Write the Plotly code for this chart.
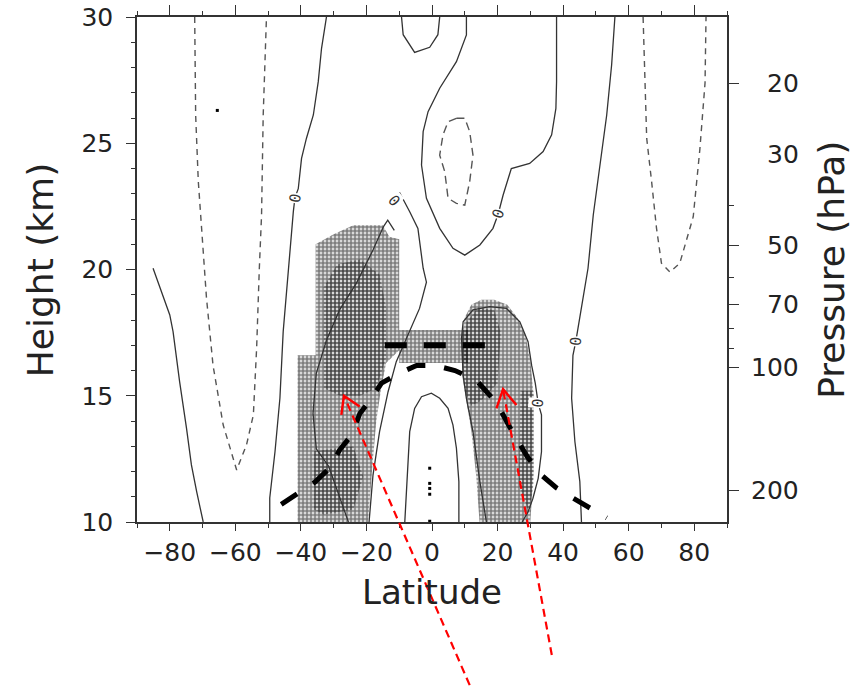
import numpy as np
import plotly.graph_objects as go

# ---------------- data (latitude in degrees, height in km) ----------------
# thin contour lines
negA_lat = [-72.4, -72.1, -71.3, -69.8, -69.3, -68.8, -66.8, -63.7, -59.6, -56.6, -54.5, -53.5, -52.7, -52.0, -51.5, -50.5]
negA_h   = [30.0, 26.1, 23.5, 20.85, 20.1, 18.87, 16.2, 13.84, 12.06, 13.05, 14.24, 16.9, 19.98, 22.16, 26.1, 30.0]

negJ_lat = [64.4, 64.9, 65.5, 67.0, 68.5, 70.0, 72.6, 75.6, 79.7, 81.7, 83.3, 83.6]
negJ_h   = [30.0, 27.44, 25.2, 23.48, 21.63, 20.25, 19.9, 20.25, 22.09, 24.73, 27.39, 30.0]

negH_lat = [7.45, 10.0, 11.5, 12.5, 11.5, 10.0, 7.45, 4.9, 3.9, 2.35, 3.35, 4.9, 7.45]
negH_h   = [25.99, 25.99, 25.46, 24.53, 23.48, 22.55, 22.62, 22.82, 23.87, 24.53, 25.33, 25.85, 25.99]

posB_lat = [-85.1, -80.0, -79.0, -77.0, -74.9, -73.4, -71.8, -69.8]
posB_h   = [20.05, 18.2, 17.54, 15.56, 13.72, 12.26, 11.2, 10.0]

posC_lat = [-32.2, -33.7, -34.7, -36.2, -38.3, -39.8, -40.8, -41.8, -42.3, -43.8, -45.4, -46.4, -47.9, -49.5, -49.5]
posC_h   = [30.0, 28.76, 27.44, 26.12, 25.2, 24.4, 23.2, 22.85, 22.3, 20.06, 17.54, 14.9, 12.78, 10.95, 10.0]

posD_lat = [-11.5, -13.5, -14.8, -18.0, -23.1, -28.2, -32.2, -35.3, -36.3, -35.3, -31.5, -28.5, -25.5]
posD_h   = [21.55, 21.95, 21.7, 20.77, 19.45, 18.4, 17.2, 15.89, 14.3, 12.9, 12.2, 11.1, 10.0]

posE_lat = [-11.6, -9.9, -6.8, -4.3, -2.7, -1.7, -3.8, -6.8, -10.9, -13.4, -16.0, -18.0, -19.2]
posE_h   = [22.6, 23.05, 22.29, 21.63, 20.05, 19.5, 18.46, 17.54, 16.35, 15.16, 13.58, 11.86, 10.0]

posF_lat = [-9.3, -8.8, -5.3, -0.7, 1.8, 2.35]
posF_h   = [30.0, 29.3, 28.6, 28.8, 29.3, 30.0]

posG_lat = [10.5, 10.5, 7.45, 2.35, -1.2, -2.7, -3.2, -1.7, 2.35, 6.4, 10.0, 14.6, 18.6, 20.2, 21.7, 24.2, 29.8, 33.9, 36.5, 37.8, 38.0, 38.0]
posG_h   = [30.0, 29.29, 28.23, 27.18, 26.25, 25.46, 24.14, 22.82, 21.63, 20.84, 20.57, 20.97, 21.63, 22.2, 22.95, 24.0, 24.2, 24.67, 25.33, 26.38, 27.44, 30.0]

posI_lat = [55.8, 54.8, 53.3, 51.2, 49.2, 47.6, 46.1, 44.6, 43.9, 43.0, 42.6, 43.6, 45.1, 45.6]
posI_h   = [30.0, 28.1, 26.12, 24.14, 22.16, 20.05, 18.86, 17.67, 17.17, 16.6, 14.9, 13.18, 11.6, 10.0]

posK_lat = [-8.3, -7.3, -6.8, -5.3, -3.2, -0.2, 2.35, 4.9, 6.4, 7.45, 8.2, 8.2]
posK_h   = [10.0, 12.26, 13.58, 14.5, 14.96, 15.1, 14.9, 14.5, 13.84, 12.92, 11.6, 10.0]

posL_lat = [16.6, 14.6, 12.5, 10.5, 9.5, 9.0, 9.5, 12.5, 17.6, 22.7, 26.8, 29.3, 30.4, 31.5, 32.4, 33.4, 33.4, 32.4, 30.8, 29.3, 27.5]
posL_h   = [10.0, 11.6, 13.58, 14.9, 15.82, 17.28, 17.93, 18.4, 18.53, 18.46, 17.93, 17.14, 16.2, 15.5, 14.7, 14.24, 12.78, 11.73, 10.94, 10.4, 10.0]

# contour labels
label_lat   = [-41.8, -11.6, 20.2, 43.9, 32.4]
label_h     = [22.85, 22.7, 22.2, 17.17, 14.7]
label_text  = ["0", "0", "0", "0", "0"]
label_angle = [-80, 50, -70, -85, -85]

# tropopause (thick dashed) and 17 km line
trop_lat = [-46, -40, -35.7, -31.2, -28.2, -24.5, -22, -19, -15.4, -9.9, -4.7, 0.8, 7, 13.6, 16.7, 19.8, 23.7, 26.8, 29, 33, 38, 43, 48, 53.3]
trop_h   = [10.7, 11.2, 11.58, 12.14, 12.85, 13.45, 14.3, 14.8, 15.5, 15.9, 16.2, 16.2, 16.0, 15.6, 15.15, 14.7, 13.76, 13.1, 12.6, 11.9, 11.35, 10.95, 10.55, 10.16]
cpt_lat = [-14.4, 17.0]
cpt_h   = [17.0, 17.0]

# stippled (significant) regions
stipL_lat = [-35.5, -30, -24, -15, -13, -10, -10, -14, -15.5, -17, -18, -19.5, -41, -41, -35.5]
stipL_h   = [21.0, 21.4, 21.75, 21.75, 21.3, 21.2, 16.8, 16.3, 15.3, 14.0, 12.5, 10.0, 10.0, 16.6, 16.6]
stipB_lat = [-10, 11, 11, -10]
stipB_h   = [16.3, 16.3, 17.6, 17.6]
stipR_lat = [9.0, 10.0, 12.0, 15.0, 19.0, 23.0, 26.0, 28.5, 30.0, 31.0, 31.0, 30.5, 30.0, 14.5, 13.5, 12.0, 10.5, 9.2, 9.0]
stipR_h   = [17.3, 18.1, 18.6, 18.8, 18.8, 18.6, 18.1, 17.4, 16.4, 15.0, 12.0, 10.8, 10.0, 10.0, 11.8, 13.6, 14.8, 15.8, 17.3]
denseL1_lat = [-33, -33, -29, -22, -16, -14, -14, -17, -22, -28]
denseL1_h   = [15.3, 19.3, 20.2, 20.4, 19.8, 18.5, 16.5, 15.3, 15.0, 15.0]
denseL2_lat = [-36, -36, -24, -21, -24, -33]
denseL2_h   = [10.5, 12.8, 13.0, 11.8, 10.5, 10.3]
denseR1_lat = [9.5, 10.5, 14, 19, 21, 20, 15, 12, 10]
denseR1_h   = [16.0, 17.9, 18.5, 18.4, 17.5, 15.5, 14.8, 14.6, 15.2]
denseR2_lat = [27, 31, 31, 29.5, 26.5]
denseR2_h   = [15.2, 15.2, 11.5, 10.4, 11.5]

# isolated significant grid points
dot_lat = [-0.7, -0.7, -0.7, -0.7, -0.7, -65.5]
dot_h   = [12.13, 11.53, 11.33, 11.1, 10.03, 26.3]

# red arrows: tail -> head, plus arrow-head wings
arrow_tail_lat = [11.5, 36.55]
arrow_tail_h   = [3.54, 4.73]
arrow_head_lat = [-26.87, 21.68]
arrow_head_h   = [15.0, 15.26]
wingL_lat = [-27.66, 19.66]
wingL_h   = [14.24, 14.5]
wingR_lat = [-22.08, 25.77]
wingR_h   = [14.57, 14.63]

# axes
lat_ticks = [-80, -60, -40, -20, 0, 20, 40, 60, 80]
z_ticks = [10, 15, 20, 25, 30]
p_major = [20, 50, 70, 100, 200]
p_minor = [40, 60, 80, 90]
p_labels = [20, 30, 50, 70, 100, 200]
SCALE_H = 7.0
P0 = 1000.0

LAT_RANGE = [-90, 90]
Z_RANGE = [10, 30]


def p_to_z(p):
    return list(SCALE_H * np.log(P0 / np.asarray(p, dtype=float)))


def to_paper(lat, h):
    px = (lat - LAT_RANGE[0]) / (LAT_RANGE[1] - LAT_RANGE[0])
    py = (h - Z_RANGE[0]) / (Z_RANGE[1] - Z_RANGE[0])
    return px, py


FONT = "DejaVu Sans"
fig = go.Figure()

# stippling
base_pat = dict(shape=".", size=4, solidity=0.75, fgcolor="black", bgcolor="rgba(0,0,0,0)")
dense_pat = dict(shape="+", size=4, solidity=0.5, fgcolor="black", bgcolor="rgba(0,0,0,0)")
for la, hh in [(stipL_lat, stipL_h), (stipB_lat, stipB_h), (stipR_lat, stipR_h)]:
    fig.add_trace(go.Scatter(x=la, y=hh, mode="lines", fill="toself", line=dict(width=0),
                             fillcolor="rgba(0,0,0,0)", fillpattern=base_pat, hoverinfo="skip"))
for la, hh in [(denseL1_lat, denseL1_h), (denseL2_lat, denseL2_h), (denseR1_lat, denseR1_h), (denseR2_lat, denseR2_h)]:
    fig.add_trace(go.Scatter(x=la, y=hh, mode="lines", fill="toself", line=dict(width=0),
                             fillcolor="rgba(0,0,0,0)", fillpattern=dense_pat, hoverinfo="skip"))

fig.add_trace(go.Scatter(x=dot_lat, y=dot_h, mode="markers",
                         marker=dict(symbol="square", size=3, color="black"), hoverinfo="skip"))

# negative (dashed) contours
for la, hh, d in [(negA_lat, negA_h, "6px,5px"), (negJ_lat, negJ_h, "6px,5px"), (negH_lat, negH_h, "8px,5px")]:
    fig.add_trace(go.Scatter(x=la, y=hh, mode="lines",
                             line=dict(color="#555555", width=1.4, dash=d), hoverinfo="skip"))
# positive / zero (solid) contours
for la, hh in [(posB_lat, posB_h), (posC_lat, posC_h), (posD_lat, posD_h), (posE_lat, posE_h),
               (posF_lat, posF_h), (posG_lat, posG_h), (posI_lat, posI_h), (posK_lat, posK_h),
               (posL_lat, posL_h)]:
    fig.add_trace(go.Scatter(x=la, y=hh, mode="lines",
                             line=dict(color="#333333", width=1.3), hoverinfo="skip"))

# tropopause thick dashes
fig.add_trace(go.Scatter(x=trop_lat, y=trop_h, mode="lines",
                         line=dict(color="black", width=5, dash="19px,19px"), hoverinfo="skip"))
fig.add_trace(go.Scatter(x=cpt_lat, y=cpt_h, mode="lines",
                         line=dict(color="black", width=6, dash="22px,17px"), hoverinfo="skip"))

# dummy trace for top axis
fig.add_trace(go.Scatter(x=LAT_RANGE, y=Z_RANGE, xaxis="x2", yaxis="y2", mode="lines",
                         line=dict(width=0), hoverinfo="skip", showlegend=False))

# contour labels
annotations = []
for la, hh, t, a in zip(label_lat, label_h, label_text, label_angle):
    annotations.append(dict(x=la, y=hh, xref="x", yref="y", text=t, showarrow=False, textangle=a,
                            font=dict(family="DejaVu Sans Mono", size=15, color="#333"),
                            bgcolor="white", borderpad=0))

# pressure labels (right aligned)
for p, z in zip(p_labels, p_to_z(p_labels)):
    annotations.append(dict(x=1.1254, y=z, xref="paper", yref="y2", text=str(p), showarrow=False,
                            xanchor="right", yanchor="middle",
                            font=dict(family=FONT, size=25, color="#222")))

# axis titles
annotations += [
    dict(x=0.5, y=-0.095, xref="paper", yref="paper", text="Latitude", showarrow=False,
         xanchor="center", yanchor="top", font=dict(family=FONT, size=34, color="#222")),
    dict(x=-0.164, y=0.499, xref="paper", yref="paper", text="Height (km)", showarrow=False,
         textangle=-90, xanchor="center", yanchor="middle", font=dict(family=FONT, size=36, color="#222")),
    dict(x=1.176, y=0.499, xref="paper", yref="paper", text="Pressure (hPa)", showarrow=False,
         textangle=-90, xanchor="center", yanchor="middle", font=dict(family=FONT, size=36, color="#222")),
]

# red arrows as shapes in paper coords (extend below the plot)
shapes = []
for i in range(len(arrow_tail_lat)):
    tx, ty = to_paper(arrow_tail_lat[i], arrow_tail_h[i])
    hx, hy = to_paper(arrow_head_lat[i], arrow_head_h[i])
    lx, ly = to_paper(wingL_lat[i], wingL_h[i])
    rx, ry = to_paper(wingR_lat[i], wingR_h[i])
    shapes.append(dict(type="line", xref="paper", yref="paper", x0=tx, y0=ty, x1=hx, y1=hy,
                       line=dict(color="#ff0000", width=2.2, dash="8px,5px")))
    shapes.append(dict(type="path", xref="paper", yref="paper",
                       path=f"M{lx},{ly} L{hx},{hy} L{rx},{ry}",
                       line=dict(color="#ff0000", width=2.4)))

axis_common = dict(showgrid=False, zeroline=False, showline=True, linecolor="#333", linewidth=1.6,
                   ticks="outside", tickcolor="#333", tickwidth=1.4, automargin=False)

fig.update_layout(
    width=862, height=687,
    margin=dict(l=137, r=135, t=17, b=165, autoexpand=False),
    paper_bgcolor="white", plot_bgcolor="white",
    showlegend=False,
    xaxis=dict(range=LAT_RANGE, tickvals=lat_ticks, ticklen=7,
               minor=dict(dtick=10, tick0=-90, ticklen=4, ticks="outside", tickcolor="#333"),
               tickfont=dict(family=FONT, size=25, color="#222"), **axis_common),
    xaxis2=dict(range=LAT_RANGE, overlaying="x", side="top", tickvals=lat_ticks, ticklen=10,
                minor=dict(dtick=10, tick0=-90, ticklen=4, ticks="outside", tickcolor="#333"),
                showticklabels=False, **axis_common),
    yaxis=dict(range=Z_RANGE, tickvals=z_ticks, ticklen=9, ticklabelstandoff=8,
               minor=dict(dtick=1, tick0=10, ticklen=4, ticks="outside", tickcolor="#333"),
               tickfont=dict(family=FONT, size=25, color="#222"), **axis_common),
    yaxis2=dict(range=Z_RANGE, overlaying="y", side="right", tickvals=p_to_z(p_major), ticklen=10,
                minor=dict(tickvals=p_to_z(p_minor), ticklen=5, ticks="outside", tickcolor="#333"),
                showticklabels=False, **axis_common),
    annotations=annotations,
    shapes=shapes,
)

fig.write_html("out.html", config={"displayModeBar": False},
               post_script="document.body.style.margin='0px';document.body.style.overflow='hidden';")
